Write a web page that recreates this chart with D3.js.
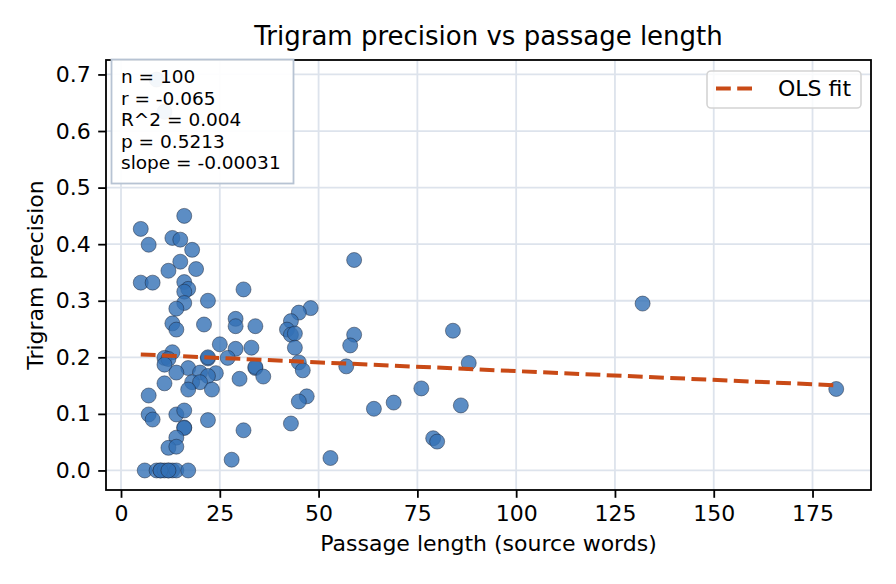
<!DOCTYPE html>
<html>
<head>
<meta charset="utf-8">
<script src="https://cdn.jsdelivr.net/npm/d3@7/dist/d3.min.js"></script>
<style>
  body { margin: 0; background: #fff; }
  svg { display: block; font-family: "DejaVu Sans", sans-serif; }
</style>
</head>
<body>
<script>
// passage length (source words)
const lengths = [
  16, 5, 13, 15, 7, 18, 15, 12, 19, 5,
  8, 16, 17, 16, 16, 22, 31, 14, 13, 14,
  21, 29, 29, 34, 25, 29, 33, 13, 11, 12,
  11, 22, 27, 34, 34, 17, 14, 20, 24, 22,
  18, 11, 20, 17, 23, 30, 7, 7, 8, 14,
  16, 22, 16, 16, 14, 12, 14, 31, 28, 6,
  9, 10, 11, 12, 13, 14, 17, 10, 12, 59,
  48, 45, 43, 42, 43, 44, 44, 59, 58, 36,
  45, 46, 57, 47, 45, 64, 43, 53, 84, 88,
  76, 69, 86, 79, 80, 132, 181, 9, 11, 22
];
// trigram precision
const precision = [
  0.450, 0.427, 0.411, 0.408, 0.399, 0.390, 0.369, 0.353, 0.356, 0.332,
  0.332, 0.333, 0.321, 0.316, 0.296, 0.300, 0.320, 0.286, 0.260, 0.249,
  0.258, 0.268, 0.255, 0.255, 0.223, 0.215, 0.217, 0.209, 0.199, 0.197,
  0.187, 0.198, 0.199, 0.181, 0.183, 0.181, 0.173, 0.173, 0.172, 0.167,
  0.156, 0.154, 0.156, 0.143, 0.143, 0.162, 0.1325, 0.099, 0.090, 0.099,
  0.106, 0.089, 0.076, 0.075, 0.058, 0.040, 0.042, 0.071, 0.019, 0.0,
  0.0, 0.0, 0.0, 0.0, 0.0, 0.0, 0.0, 0.0, 0.0, 0.372,
  0.287, 0.279, 0.264, 0.249, 0.240, 0.242, 0.217, 0.240, 0.221, 0.166,
  0.191, 0.177, 0.184, 0.131, 0.122, 0.109, 0.083, 0.022, 0.247, 0.190,
  0.145, 0.120, 0.115, 0.057, 0.051, 0.295, 0.144, 0.691, 0.634, 0.200
];

// fit and stats as printed on the chart
const fitSlope = -0.00031;
const fitIntercept = 0.2066;
const statLines = ["n = 100", "r = -0.065", "R^2 = 0.004", "p = 0.5213", "slope = -0.00031"];

const xTicks = [0, 25, 50, 75, 100, 125, 150, 175];
const yTicks = [0.0, 0.1, 0.2, 0.3, 0.4, 0.5, 0.6, 0.7];

const W = 896, H = 584;
const plotLeft = 106, plotRight = 871, plotTop = 60, plotBottom = 490;
const lineColor = '#c94a16';

const points = lengths.map((x, i) => ({ x, y: precision[i] }));

const svg = d3.select('body').append('svg')
  .attr('width', W)
  .attr('height', H);

// matplotlib style 5% margins
const xExt = d3.extent(lengths);
const yExt = d3.extent(precision);
const xPad = (xExt[1] - xExt[0]) * 0.05;
const yPad = (yExt[1] - yExt[0]) * 0.05;

const x = d3.scaleLinear()
  .domain([xExt[0] - xPad, xExt[1] + xPad])
  .range([plotLeft, plotRight]);
const y = d3.scaleLinear()
  .domain([yExt[0] - yPad, yExt[1] + yPad])
  .range([plotBottom, plotTop]);

// grid
const grid = svg.append('g');
grid.selectAll('line.gx').data(xTicks).enter().append('line')
  .attr('x1', d => x(d)).attr('x2', d => x(d))
  .attr('y1', plotTop).attr('y2', plotBottom)
  .attr('stroke', '#dde3ec').attr('stroke-width', 1.8);
grid.selectAll('line.gy').data(yTicks).enter().append('line')
  .attr('y1', d => y(d)).attr('y2', d => y(d))
  .attr('x1', plotLeft).attr('x2', plotRight)
  .attr('stroke', '#dde3ec').attr('stroke-width', 1.8);

// points
svg.append('g').selectAll('circle')
  .data(points)
  .enter().append('circle')
  .attr('cx', d => x(d.x))
  .attr('cy', d => y(d.y))
  .attr('r', 7.5)
  .attr('fill', '#3370b5')
  .attr('fill-opacity', 0.8)
  .attr('stroke', '#1b2233')
  .attr('stroke-opacity', 0.8)
  .attr('stroke-width', 0.6);

// OLS line
const fitX = [xExt[0], xExt[1]];
svg.append('path')
  .datum(fitX)
  .attr('d', d3.line().x(d => x(d)).y(d => y(fitIntercept + fitSlope * d)))
  .attr('fill', 'none')
  .attr('stroke', lineColor)
  .attr('stroke-width', 4)
  .attr('stroke-dasharray', '14.8,6.4');

// axes
const xAxis = svg.append('g')
  .attr('transform', `translate(0,${plotBottom})`)
  .call(d3.axisBottom(x).tickValues(xTicks).tickSize(7.8).tickPadding(7.5).tickFormat(d3.format('d')));
const yAxis = svg.append('g')
  .attr('transform', `translate(${plotLeft},0)`)
  .call(d3.axisLeft(y).tickValues(yTicks).tickSize(7.8).tickPadding(7.5).tickFormat(d3.format('.1f')));
[xAxis, yAxis].forEach(a => {
  a.select('.domain').remove();
  a.selectAll('.tick line').attr('stroke', '#000').attr('stroke-width', 1.8);
  a.selectAll('.tick text').attr('fill', '#000').style('font-size', '22px')
    .style('font-family', '"DejaVu Sans", sans-serif');
});

// frame
svg.append('rect')
  .attr('x', plotLeft).attr('y', plotTop)
  .attr('width', plotRight - plotLeft).attr('height', plotBottom - plotTop)
  .attr('fill', 'none').attr('stroke', '#000').attr('stroke-width', 1.8);

// title and labels
svg.append('text')
  .attr('x', (plotLeft + plotRight) / 2).attr('y', 45)
  .attr('text-anchor', 'middle')
  .style('font-size', '26px')
  .text('Trigram precision vs passage length');
svg.append('text')
  .attr('x', (plotLeft + plotRight) / 2).attr('y', 551)
  .attr('text-anchor', 'middle')
  .style('font-size', '22px')
  .text('Passage length (source words)');
svg.append('text')
  .attr('transform', `translate(43,${(plotTop + plotBottom) / 2}) rotate(-90)`)
  .attr('text-anchor', 'middle')
  .style('font-size', '22px')
  .text('Trigram precision');

// stats box
const sb = svg.append('g');
sb.append('rect')
  .attr('x', 111.5).attr('y', 59.5)
  .attr('width', 182).attr('height', 124)
  .attr('fill', '#fff').attr('fill-opacity', 0.93)
  .attr('stroke', '#b7c3d3').attr('stroke-width', 1.8);
sb.selectAll('text').data(statLines).enter().append('text')
  .attr('x', 121)
  .attr('y', (d, i) => 83.3 + i * 21.5)
  .style('font-size', '18.5px')
  .text(d => d);

// legend
const lg = svg.append('g');
lg.append('rect')
  .attr('x', 707).attr('y', 71)
  .attr('width', 154).attr('height', 37)
  .attr('rx', 4)
  .attr('fill', '#fff').attr('fill-opacity', 0.8)
  .attr('stroke', '#d4d4d4').attr('stroke-width', 1.6);
lg.append('line')
  .attr('x1', 716).attr('x2', 753).attr('y1', 88.5).attr('y2', 88.5)
  .attr('stroke', lineColor).attr('stroke-width', 4)
  .attr('stroke-dasharray', '14.8,6.4');
lg.append('text')
  .attr('x', 778).attr('y', 96)
  .style('font-size', '22px')
  .text('OLS fit');
</script>
</body>
</html>
